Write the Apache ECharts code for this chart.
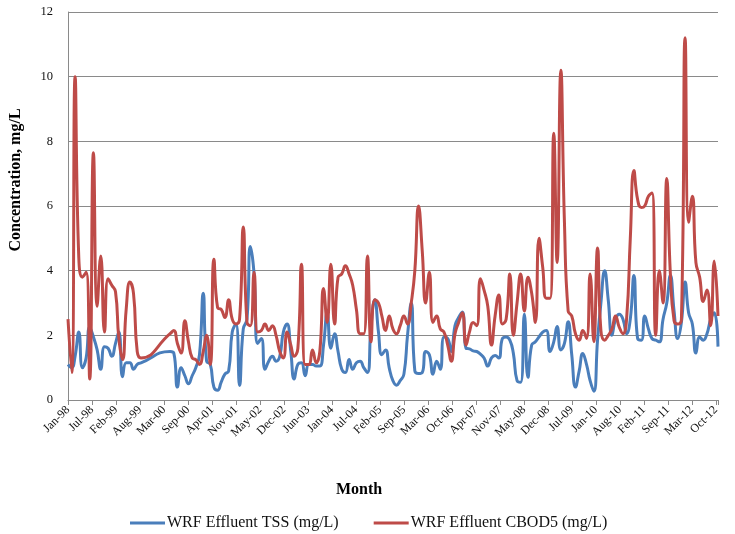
<!DOCTYPE html>
<html><head><meta charset="utf-8">
<script src="https://cdn.jsdelivr.net/npm/echarts@6/dist/echarts.min.js"></script>
<style>html,body{margin:0;padding:0;background:#fff}#c{width:735px;height:534px}</style>
</head><body><div id="c"></div><script>
// Monthly samples starting Jan-1998 (index 0); null = no sample that month
const startYear = 1998;
const tickLabels = ['Jan-98','Jul-98','Feb-99','Aug-99','Mar-00','Sep-00','Apr-01','Nov-01','May-02','Dec-02',
  'Jun-03','Jan-04','Jul-04','Feb-05','Sep-05','Mar-06','Oct-06','Apr-07','Nov-07','May-08','Dec-08','Jul-09',
  'Jan-10','Aug-10','Feb-11','Sep-11','Mar-12','Oct-12'];
const seriesNames = ['WRF Effluent TSS (mg/L)', 'WRF Effluent CBOD5 (mg/L)'];
const tss = [
  1.1,1.0,1.35,2.1,1.0,1.3,2.25,1.95,1.55,0.95,1.65,1.6,
  1.35,1.75,2.1,0.72,1.15,1.15,0.95,1.1,1.15,null,null,null,
  null,null,null,null,1.5,1.45,0.4,1.0,0.75,0.5,0.75,1.0,
  1.4,3.3,1.2,1.1,0.4,0.3,0.55,0.8,0.9,2.1,2.35,0.45,
  2.2,2.5,4.75,3.9,1.75,1.9,0.95,1.2,1.35,1.2,1.35,2.1,
  2.35,1.5,0.65,1.1,1.15,0.75,1.1,1.1,1.05,1.05,1.7,2.7,
  1.6,2.05,1.5,0.95,0.85,1.25,0.95,1.15,1.2,1.0,0.85,2.3,
  3.1,2.1,1.4,1.55,1.0,0.6,0.46,0.6,0.8,2.0,3.0,0.9,
  0.82,0.85,1.5,1.4,0.8,1.2,0.95,1.95,1.9,1.5,2.3,2.55,
  2.72,1.6,1.58,1.52,1.5,1.42,1.3,1.05,1.3,1.38,1.3,1.9,
  1.95,1.85,1.45,0.6,0.55,2.65,0.7,1.7,1.8,1.95,2.1,2.15,
  1.5,1.8,2.27,1.55,1.75,2.42,1.4,0.4,0.9,1.44,1.1,0.6,
  0.27,1.85,3.0,4.0,3.1,2.0,2.5,2.65,2.5,2.05,2.5,3.85,
  1.9,1.85,2.6,2.2,1.9,1.85,1.8,2.5,3.0,3.85,2.75,1.9,
  2.4,3.65,2.7,2.35,1.45,1.95,1.85,2.05,2.5,2.7,1.65
];
const cbod5 = [
  2.5,0.85,10.0,4.4,3.8,3.95,0.65,7.65,2.9,4.45,2.1,3.75,
  3.55,3.35,1.9,1.25,2.8,3.65,3.3,1.5,1.3,null,null,null,
  null,null,null,null,2.05,2.15,1.75,1.45,2.45,1.8,1.3,1.25,
  1.1,1.5,2.0,1.1,4.35,2.85,2.8,2.55,3.1,2.5,2.35,2.5,
  5.35,2.4,2.3,3.95,2.1,2.15,2.35,2.15,2.3,2.0,1.5,1.3,
  2.1,1.7,1.35,1.6,4.2,1.1,1.1,1.55,1.15,1.5,3.45,2.4,
  4.2,2.35,3.8,3.9,4.15,3.9,3.55,2.8,2.05,2.05,4.45,1.8,
  3.1,3.0,2.6,2.15,2.6,2.2,2.05,2.3,2.6,2.35,3.0,4.0,
  6.0,4.6,3.0,3.95,2.4,2.6,2.2,2.1,1.7,1.2,2.05,2.4,
  2.7,1.7,2.1,2.4,2.3,3.75,3.4,2.9,1.7,2.6,3.25,2.35,
  2.5,3.9,2.0,3.0,3.9,2.75,3.8,3.3,2.4,5.0,4.1,3.15,
  3.15,8.25,4.25,10.2,5.5,2.75,2.6,2.05,1.85,2.15,1.9,3.9,
  1.8,4.7,2.15,1.85,2.0,2.2,2.6,2.25,2.05,2.5,5.0,7.1,
  6.2,5.95,6.0,6.3,6.4,2.0,4.0,3.0,6.85,3.9,2.45,2.35,
  2.5,11.2,5.5,6.3,4.25,3.8,3.05,3.4,2.3,4.3,2.6
];

function dayOf(i) {
  const y = startYear + Math.floor(i / 12), m = i % 12;
  return (Date.UTC(y, m, 1) - Date.UTC(startYear, 0, 1)) / 86400000;
}
function toPairs(arr) {
  return arr.map((v, i) => [dayOf(i), v]).filter(p => p[1] !== null);
}
const serif = 'Liberation Serif';
const gridGray = '#8a8a8a';
const chart = echarts.init(document.getElementById('c'));
chart.setOption({
  animation: false,
  backgroundColor: '#fff',
  grid: { left: 68, right: 17, top: 12, bottom: 134, containLabel: false },
  xAxis: {
    type: 'value', min: 0, max: dayOf(tss.length - 1), interval: 200,
    axisLine: { show: true, lineStyle: { color: gridGray, width: 1 } },
    axisTick: { show: true, length: 5, lineStyle: { color: gridGray } },
    splitLine: { show: false },
    axisLabel: {
      rotate: 45, margin: 8, fontFamily: serif, fontSize: 12, color: '#111',
      formatter: v => (v % 200 === 0 ? (tickLabels[v / 200] || '') : '')
    }
  },
  yAxis: {
    type: 'value', min: 0, max: 12, interval: 2,
    axisLine: { show: true, lineStyle: { color: gridGray, width: 1 } },
    axisTick: { show: false },
    splitLine: { show: true, lineStyle: { color: gridGray, width: 1 } },
    axisLabel: { margin: 15, fontFamily: serif, fontSize: 12.5, color: '#111' }
  },
  legend: {
    left: 125, top: 510, itemWidth: 35, itemHeight: 3, itemGap: 35, icon: 'rect',
    textStyle: { fontFamily: serif, fontSize: 16, color: '#111', padding: [0, 0, 0, -3] },
    data: seriesNames
  },
  graphic: [
    { type: 'text', x: 16, y: 180, rotation: Math.PI / 2,
      style: { text: 'Concentration, mg/L', font: 'bold 16px "Liberation Serif"', fill: '#000', align: 'center', verticalAlign: 'middle' } },
    { type: 'text', x: 359, y: 490,
      style: { text: 'Month', font: 'bold 16px "Liberation Serif"', fill: '#000', align: 'center', verticalAlign: 'middle' } }
  ],
  series: [
    { name: seriesNames[0], type: 'line', data: toPairs(tss), smooth: 0.5, showSymbol: false,
      lineStyle: { color: '#4A7EBB', width: 3 }, itemStyle: { color: '#4A7EBB' }, z: 2 },
    { name: seriesNames[1], type: 'line', data: toPairs(cbod5), smooth: 0.5, showSymbol: false,
      lineStyle: { color: '#BE4B48', width: 3 }, itemStyle: { color: '#BE4B48' }, z: 3 }
  ]
});
</script></body></html>
